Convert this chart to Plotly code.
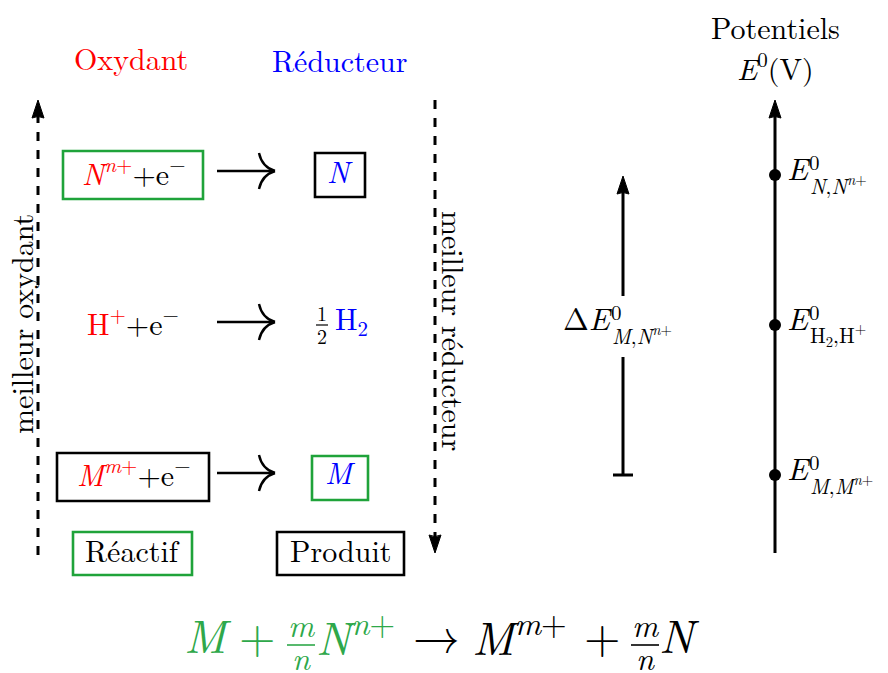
import plotly.graph_objects as go

# ---------------- data ----------------
column_titles = ["Oxydant", "Réducteur"]
oxidant_labels = [
    "<span style='color:#ff0000'><i>N</i><sup><i>n</i>+</sup></span>+e<sup>−</sup>",
    "<span style='color:#ff0000'>H<sup>+</sup></span>+e<sup>−</sup>",
    "<span style='color:#ff0000'><i>M</i><sup><i>m</i>+</sup></span>+e<sup>−</sup>",
]
reductant_labels = ["<i>N</i>", "H<sub>2</sub>", "<i>M</i>"]
reductant_coefs = [None, ("1", "2"), None]
legend_labels = ["Réactif", "Produit"]
side_labels = ["meilleur oxydant", "meilleur réducteur"]
axis_title = ["Potentiels", "<i>E</i><sup>0</sup>(V)"]
potential_names = ["N", "H2", "M"]
potentials = [1.0, 0.0, -1.0]          # ordering values: E0(N) > E0(H2) > E0(M)
potential_subs = [
    "<i>N</i>,<i>N</i><sup><i>n</i>+</sup>",
    "H<sub>2</sub>,H<sup>+</sup>",
    "<i>M</i>,<i>M</i><sup><i>n</i>+</sup>",
]
delta_sub = "<i>M</i>,<i>N</i><sup><i>n</i>+</sup>"

# ---------------- layout / style ----------------
W, H = 888, 673
OFF = 8                                  # page body margin
FONT = "Latin Modern Roman, CMU Serif, Liberation Serif, serif"
RED, BLUE, GREEN, BLACK = "#ff0000", "#0000ff", "#1fa33a", "#000000"
EQ_GREEN = "#2ea84a"
Y0, SCALE = 325.0, 150.0              # pixel position of E=0 and pixels per unit
FS = 30
DY_EM = 0.17                           # glyph centre offset of the font inside its box


def e_from_px(py):
    return (Y0 - py) / SCALE


row_y = [176, 326, 477]
arrow_y = [171, 322, 473]
ox_x, red_x = 133, 340
ox_boxes = [(63, 151, 203, 199, GREEN), None, (57, 453, 209, 501, BLACK)]
red_boxes = [(315, 153, 365, 197, BLACK), None, (312, 456, 368, 500, GREEN)]
legend_boxes = [(73, 532, 192, 575, GREEN), (277, 532, 404, 575, BLACK)]
AXIS_X = 775
DELTA_X = 623

ann = []
shapes = []


def txt(x, y, text, size, color=BLACK, xanchor="center", angle=0):
    d = DY_EM * size
    if angle == -90:
        x -= d
    elif angle == 90:
        x += d
    else:
        y -= d
    ann.append(dict(x=x, y=y, xref="x", yref="y", text=text, showarrow=False,
                    font=dict(family=FONT, size=size, color=color),
                    xanchor=xanchor, yanchor="middle", textangle=angle))


def rect(b, w=2.6):
    x0, y0, x1, y1, c = b
    shapes.append(dict(type="rect", xref="x", yref="y", x0=x0, y0=y0, x1=x1, y1=y1,
                       line=dict(color=c, width=w)))


def line(x0, y0, x1, y1, w=2.6, dash="solid", yref="y", color=BLACK):
    shapes.append(dict(type="line", xref="x", yref=yref, x0=x0, y0=y0, x1=x1, y1=y1,
                       line=dict(color=color, width=w, dash=dash)))


def tri(tipx, tipy, direction, length=16, half=6):
    by = tipy + length * direction
    p = (f"M {tipx},{tipy} L {tipx-half},{by+2*direction} "
         f"Q {tipx},{by-1*direction} {tipx+half},{by+2*direction} Z")
    shapes.append(dict(type="path", xref="x", yref="y", path=p,
                       fillcolor=BLACK, line=dict(color=BLACK, width=1)))


def long_arrow(x0, x1, y):
    line(x0, y, x1, y, w=2.4)
    hx = x1 - 16
    p = (f"M {hx},{y-18} Q {hx+3},{y-4} {x1},{y} "
         f"M {x1},{y} Q {hx+3},{y+4} {hx},{y+18}")
    shapes.append(dict(type="path", xref="x", yref="y", path=p,
                       line=dict(color=BLACK, width=2.4)))


def fraction(x, ybar, num, ynum, den, yden, size, color=BLACK, half=7, w=1.2):
    line(x - half, ybar, x + half, ybar, w=w, color=color)
    txt(x, ynum, num, size, color)
    txt(x, yden, den, size, color)


# column titles
txt(131, 63, column_titles[0], FS, RED)
txt(340, 65, column_titles[1], FS, BLUE)

# rows
for i in range(3):
    txt(ox_x, row_y[i], oxidant_labels[i], FS, BLACK)
    long_arrow(217, 275, arrow_y[i])
    if reductant_coefs[i]:
        fraction(322, row_y[i] - 1, reductant_coefs[i][0], row_y[i] - 10,
                 reductant_coefs[i][1], row_y[i] + 13, 20, half=6)
        txt(333, row_y[i] - 2, reductant_labels[i], FS, BLUE, xanchor="left")
    else:
        txt(red_x, row_y[i], reductant_labels[i], FS, BLUE)
    if ox_boxes[i]:
        rect(ox_boxes[i])
    if red_boxes[i]:
        rect(red_boxes[i])

# legend boxes
for b, lab in zip(legend_boxes, legend_labels):
    rect(b)
    txt((b[0] + b[2]) / 2, (b[1] + b[3]) / 2 + 1, lab, FS)

# dashed side arrows
line(38, 555, 38, 114, w=3, dash="dash")
tri(38, 100, 1)
txt(25, 324, side_labels[0], FS, angle=-90)
line(435, 100, 435, 538, w=3, dash="dash")
tri(435, 553, -1)
txt(450, 331, side_labels[1], FS, angle=90)

# potential axis
txt(AXIS_X, 32, axis_title[0], FS)
txt(AXIS_X, 71, axis_title[1], FS)
line(AXIS_X, 553, AXIS_X, 114, w=3)
tri(AXIS_X, 100, 1)

# potential labels
for e, sub in zip(potentials, potential_subs):
    py = Y0 - SCALE * e
    txt(785, py - 2.5, "<i>E</i>", 31, xanchor="left")
    txt(807, py - 10, "0", 21, xanchor="left")
    txt(808, py + 13, sub, 21, xanchor="left")

# Delta E arrow between E0(M) and E0(N)
e_top, e_bot = potentials[0], potentials[2]
line(DELTA_X, e_from_px(296), DELTA_X, e_top - 15 / SCALE, w=3, yref="y2")
line(DELTA_X, e_bot, DELTA_X, e_from_px(357), w=3, yref="y2")
line(DELTA_X - 10, e_bot, DELTA_X + 10, e_bot, w=3, yref="y2")
tri(DELTA_X, Y0 - SCALE * e_top + 1, 1)
txt(561, 322.5, "Δ<i>E</i>", 31, xanchor="left")
txt(609, 315, "0", 21, xanchor="left")
txt(610, 338, delta_sub, 21, xanchor="left")

# bottom equation
EQ = 47
EY = 641
txt(182, EY, "<i>M</i>", EQ, EQ_GREEN, xanchor="left")
txt(257, EY, "+", EQ, EQ_GREEN)
fraction(301, 645, "<i>m</i>", 629, "<i>n</i>", 662, 32, EQ_GREEN, half=14, w=1.6)
txt(314, EY, "<i>N</i><sup><i>n</i>+</sup>", EQ, EQ_GREEN, xanchor="left")
txt(436, EY, "→", EQ, BLACK)
txt(470, EY, "<i>M</i><sup><i>m</i>+</sup>", EQ, BLACK, xanchor="left")
txt(602, EY, "+", EQ, BLACK)
fraction(645, 645, "<i>m</i>", 629, "<i>n</i>", 662, 32, BLACK, half=14, w=1.6)
txt(657, EY, "<i>N</i>", EQ, BLACK, xanchor="left")

fig = go.Figure()
fig.add_trace(go.Scatter(x=[AXIS_X] * len(potentials), y=potentials, yaxis="y2",
                         mode="markers", marker=dict(size=12, color=BLACK),
                         text=potential_names, hoverinfo="text", showlegend=False))

fig.update_layout(
    width=W - OFF, height=H - OFF, margin=dict(l=0, r=0, t=0, b=0),
    paper_bgcolor="white", plot_bgcolor="white",
    xaxis=dict(range=[OFF, W], visible=False, fixedrange=True),
    yaxis=dict(range=[H, OFF], visible=False, fixedrange=True),
    yaxis2=dict(range=[e_from_px(H), e_from_px(OFF)], overlaying="y", visible=False,
                fixedrange=True),
    annotations=ann, shapes=shapes, showlegend=False,
)
fig.write_html("out.html")
